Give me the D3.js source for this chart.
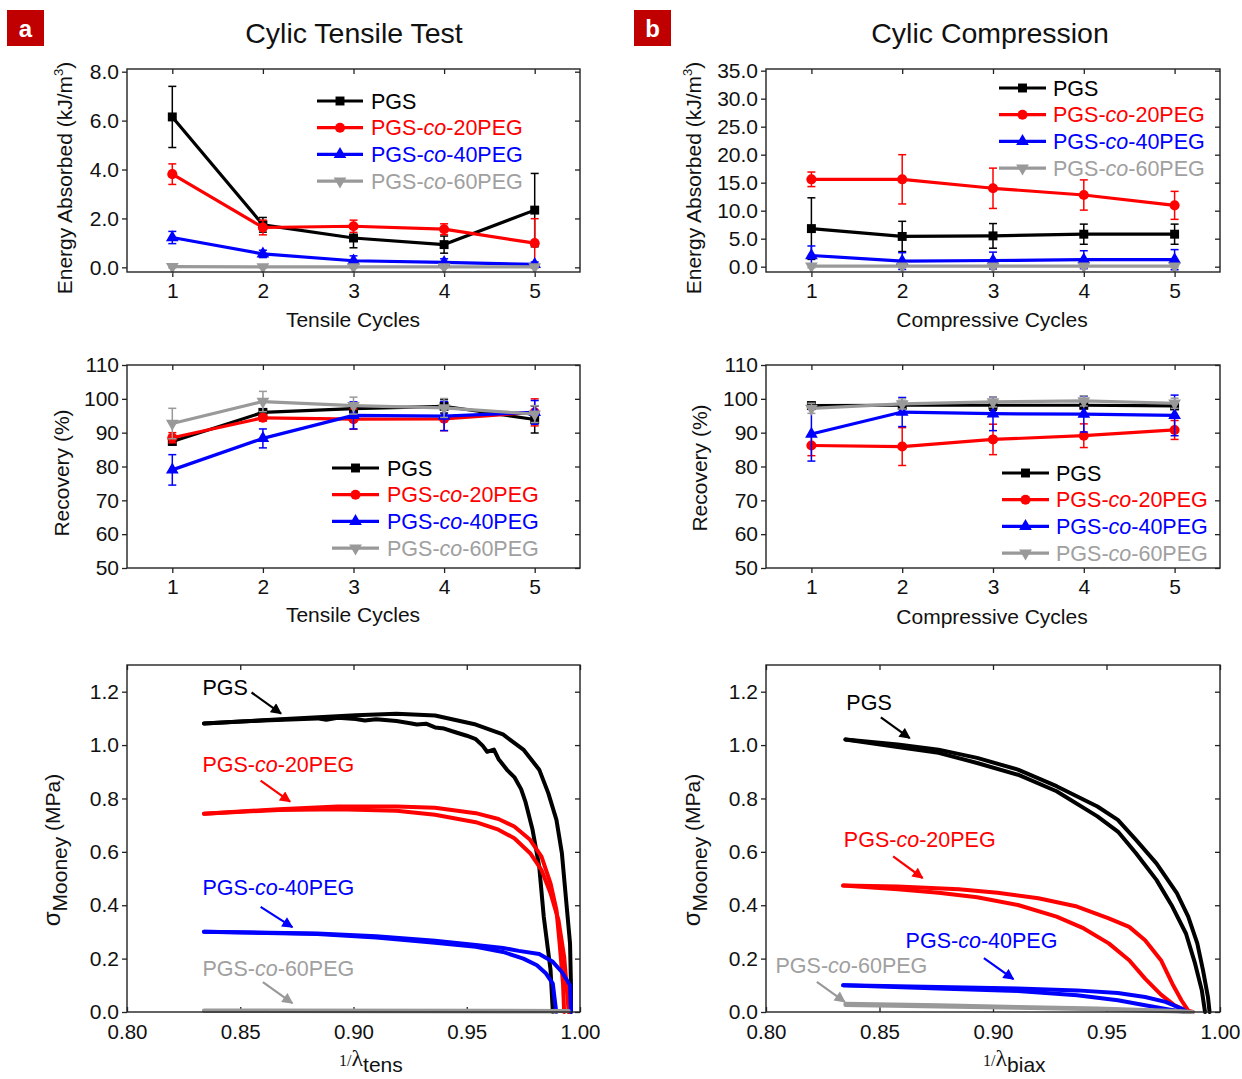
<!DOCTYPE html>
<html>
<head>
<meta charset="utf-8">
<script src="https://cdn.jsdelivr.net/npm/d3@7"></script>
<style>
  body { margin: 0; background: #fff; }
  svg text { font-family: "Liberation Sans", Arial, sans-serif; }
</style>
</head>
<body>
<svg id="fig" width="1242" height="1079"></svg>
<script>
// ---- data ----
const cycles = [1, 2, 3, 4, 5];
const names = ["PGS", "PGS-co-20PEG", "PGS-co-40PEG", "PGS-co-60PEG"];
const colors = ["#000000", "#ff0000", "#0000ff", "#999999"];
const textColors = ["#000000", "#ff0000", "#0000ff", "#a0a0a0"];

const tensEnergy = [[6.15, 1.74, 1.20, 0.93, 2.34], [3.81, 1.63, 1.68, 1.56, 0.99], [1.22, 0.55, 0.27, 0.20, 0.12], [0.03, 0.02, 0.02, 0.02, 0.02]];
const tensEnergyErr = [[1.25, 0.30, 0.40, 0.35, 1.50], [0.42, 0.30, 0.25, 0.22, 1.00], [0.25, 0.15, 0.20, 0.15, 0.10], [0.05, 0.05, 0.05, 0.05, 0.05]];
const compEnergy = [[6.8, 5.4, 5.5, 5.8, 5.8], [15.6, 15.6, 14.0, 12.8, 10.95], [2.0, 1.0, 1.1, 1.25, 1.25], [0.1, 0.1, 0.1, 0.1, 0.1]];
const compEnergyErr = [[5.5, 2.7, 2.2, 1.8, 1.8], [1.3, 4.4, 3.6, 2.7, 2.5], [1.7, 1.5, 1.5, 1.6, 1.8], [0.3, 0.3, 0.3, 0.3, 0.3]];
const tensRecovery = [[87.4, 96.0, 97.1, 97.8, 93.9], [88.5, 94.4, 94.0, 94.1, 96.0], [79.0, 88.3, 95.1, 94.9, 96.0], [92.7, 99.2, 98.0, 97.3, 95.5]];
const tensRecoveryErr = [[1, 1, 1.5, 2, 4], [1.5, 1, 3, 3.5, 4], [4.5, 2.8, 4, 4.3, 3.5], [4.5, 3, 2.5, 2.8, 2.5]];
const compRecovery = [[98.0, 98.1, 98.1, 98.1, 97.9], [86.2, 85.9, 88.0, 89.1, 90.8], [89.6, 96.1, 95.6, 95.5, 95.1], [97.2, 98.5, 99.1, 99.4, 98.7]];
const compRecoveryErr = [[1, 1, 1.5, 1, 1], [3, 5.6, 4.5, 3.5, 2.8], [8, 4.3, 5, 5.3, 6], [1.5, 1.5, 1.5, 1.5, 1.5]];

// Mooney curves, two branches each: [1/lambda, sigma]
const tensPGS1 = [[0.834, 1.081], [0.85, 1.088], [0.87, 1.098], [0.901, 1.112], [0.919, 1.117], [0.936, 1.111], [0.954, 1.077], [0.966, 1.040], [0.975, 0.983], [0.982, 0.908], [0.986, 0.82], [0.9896, 0.72], [0.992, 0.595], [0.994, 0.407], [0.9956, 0.257], [0.996, 0.106], [0.996, 0]];
const tensPGS2 = [[0.834, 1.081], [0.86, 1.092], [0.884, 1.100], [0.888, 1.095], [0.893, 1.102], [0.901, 1.098], [0.905, 1.092], [0.91, 1.097], [0.919, 1.09], [0.925, 1.082], [0.928, 1.077], [0.932, 1.08], [0.936, 1.066], [0.94, 1.062], [0.945, 1.048], [0.95, 1.035], [0.954, 1.022], [0.957, 0.998], [0.959, 0.975], [0.962, 0.983], [0.964, 0.948], [0.968, 0.905], [0.971, 0.88], [0.974, 0.835], [0.976, 0.785], [0.979, 0.685], [0.982, 0.545], [0.984, 0.357], [0.987, 0.157], [0.988, 0]];
const tensP20a = [[0.834, 0.743], [0.867, 0.760], [0.893, 0.770], [0.919, 0.770], [0.936, 0.765], [0.954, 0.745], [0.964, 0.723], [0.971, 0.695], [0.978, 0.645], [0.983, 0.582], [0.987, 0.482], [0.9896, 0.382], [0.991, 0.257], [0.9925, 0.106], [0.993, 0]];
const tensP20b = [[0.834, 0.743], [0.867, 0.757], [0.893, 0.760], [0.919, 0.754], [0.936, 0.739], [0.954, 0.711], [0.964, 0.683], [0.971, 0.651], [0.978, 0.595], [0.983, 0.532], [0.987, 0.445], [0.9905, 0.344], [0.993, 0.207], [0.994, 0.106], [0.995, 0]];
const tensP40a = [[0.834, 0.301], [0.884, 0.294], [0.910, 0.284], [0.936, 0.267], [0.954, 0.251], [0.966, 0.240], [0.973, 0.229], [0.982, 0.217], [0.988, 0.188], [0.992, 0.150], [0.9956, 0.10], [0.996, 0]];
const tensP40b = [[0.834, 0.301], [0.884, 0.292], [0.910, 0.279], [0.936, 0.259], [0.954, 0.244], [0.966, 0.225], [0.975, 0.200], [0.981, 0.175], [0.985, 0.144], [0.988, 0.106], [0.9887, 0.056], [0.9895, 0]];
const tensP60a = [[0.834, 0.006], [0.995, 0.004]];
const tensP60b = [[0.834, 0.004], [0.990, 0.002]];

const biaxPGS1 = [[0.835, 1.021], [0.858, 1.002], [0.876, 0.983], [0.893, 0.952], [0.911, 0.908], [0.928, 0.846], [0.946, 0.770], [0.955, 0.720], [0.963, 0.645], [0.972, 0.557], [0.981, 0.445], [0.986, 0.357], [0.990, 0.257], [0.9925, 0.157], [0.9947, 0.056], [0.9954, 0]];
const biaxPGS2 = [[0.835, 1.021], [0.858, 0.993], [0.876, 0.971], [0.893, 0.933], [0.911, 0.889], [0.928, 0.827], [0.946, 0.733], [0.955, 0.676], [0.963, 0.595], [0.972, 0.495], [0.979, 0.395], [0.985, 0.294], [0.989, 0.182], [0.992, 0.081], [0.9934, 0]];
const biaxP20a = [[0.834, 0.4735], [0.858, 0.470], [0.885, 0.460], [0.902, 0.447], [0.920, 0.426], [0.937, 0.395], [0.951, 0.351], [0.960, 0.319], [0.967, 0.269], [0.974, 0.194], [0.979, 0.106], [0.983, 0.044], [0.986, 0.005], [0.988, 0]];
const biaxP20b = [[0.834, 0.4735], [0.858, 0.460], [0.876, 0.447], [0.893, 0.430], [0.911, 0.401], [0.928, 0.357], [0.940, 0.313], [0.951, 0.257], [0.960, 0.194], [0.967, 0.125], [0.974, 0.065], [0.980, 0.025], [0.985, 0.005], [0.987, 0]];
const biaxP40a = [[0.834, 0.100], [0.876, 0.094], [0.911, 0.088], [0.937, 0.081], [0.955, 0.071], [0.967, 0.056], [0.976, 0.038], [0.983, 0.013], [0.9854, 0]];
const biaxP40b = [[0.834, 0.100], [0.876, 0.088], [0.911, 0.079], [0.937, 0.063], [0.955, 0.044], [0.967, 0.025], [0.978, 0.009], [0.985, 0]];
const biaxP60a = [[0.835, 0.031], [0.876, 0.025], [0.911, 0.019], [0.946, 0.013], [0.981, 0.004], [0.988, 0]];
const biaxP60b = [[0.835, 0.026], [0.876, 0.021], [0.911, 0.016], [0.946, 0.010], [0.981, 0.002], [0.986, 0]];

const tensCurves = [[tensPGS1, tensPGS2], [tensP20a, tensP20b], [tensP40a, tensP40b], [tensP60a, tensP60b]];
const biaxCurves = [[biaxPGS1, biaxPGS2], [biaxP20a, biaxP20b], [biaxP40a, biaxP40b], [biaxP60a, biaxP60b]];

const tensEnergyTicks = [0, 2, 4, 6, 8];
const compEnergyTicks = [0, 5, 10, 15, 20, 25, 30, 35];
const recoveryTicks = [50, 60, 70, 80, 90, 100, 110];
const stretchTicks = [0.80, 0.85, 0.90, 0.95, 1.00];
const mooneyTicks = [0, 0.2, 0.4, 0.6, 0.8, 1.0, 1.2];

// annotation anchors (data units) for the Mooney panels
const tensLabelAt = [[0.8333, 1.216], [0.8333, 0.927], [0.8333, 0.469], [0.8333, 0.164]];
const tensArrowAt = [[0.855, 1.197, 0.868, 1.118], [0.859, 0.867, 0.872, 0.788], [0.859, 0.394, 0.873, 0.318], [0.860, 0.112, 0.873, 0.033]];
const biaxLabelAt = [[0.8354, 1.162], [0.8343, 0.646], [0.8615, 0.270], [0.8042, 0.176]];
const biaxArrowAt = [[0.8506, 1.104, 0.8633, 1.026], [0.856, 0.583, 0.869, 0.502], [0.896, 0.202, 0.909, 0.123], [0.8224, 0.113, 0.8347, 0.038]];

// ---- layout ----
const colX = [[127, 580], [766, 1220]];
const rowY = [[69, 272], [365, 568], [665, 1012]];
const svg = d3.select("#fig");
const FONT = '"Liberation Sans", Arial, sans-serif';

const defs = svg.append("defs");
colors.forEach((c, i) => {
  defs.append("marker").attr("id", "ah" + i)
    .attr("viewBox", "0 0 10 10").attr("refX", 9).attr("refY", 5)
    .attr("markerUnits", "userSpaceOnUse").attr("markerWidth", 12).attr("markerHeight", 11)
    .attr("orient", "auto")
    .append("path").attr("d", "M0,0L10,5L0,10z").attr("fill", c);
});

function makePanel(col, row, xDom, yDom, xTicks, yTicks, xFmt, yFmt, bottomIn) {
  const [l, r] = colX[col], [t, b] = rowY[row];
  const x = d3.scaleLinear().domain(xDom).range([l, r]);
  const y = d3.scaleLinear().domain(yDom).range([b, t]);
  const g = svg.append("g");
  const xAx = g.append("g").attr("transform", `translate(0,${b})`)
    .call(d3.axisBottom(x).tickValues(xTicks).tickFormat(xFmt).tickSize(bottomIn ? -5 : 5).tickPadding(bottomIn ? 12 : 6));
  g.append("g").attr("transform", `translate(0,${t})`)
    .call(d3.axisTop(x).tickValues(xTicks).tickFormat("").tickSize(-5));
  g.append("g").attr("transform", `translate(${l},0)`)
    .call(d3.axisLeft(y).tickValues(yTicks).tickFormat(yFmt).tickSize(5).tickPadding(3));
  g.append("g").attr("transform", `translate(${r},0)`)
    .call(d3.axisRight(y).tickValues(yTicks).tickFormat("").tickSize(-5));
  g.selectAll(".domain").remove();
  g.selectAll(".tick line").attr("stroke", "#222").attr("stroke-width", 1.3);
  g.selectAll(".tick text").attr("font-size", 21).attr("font-family", FONT).attr("fill", "#111");
  if (bottomIn) xAx.selectAll(".tick text").attr("font-size", 20.5);
  const plot = g.append("g");
  g.append("rect").attr("x", l).attr("y", t).attr("width", r - l).attr("height", b - t)
    .attr("fill", "none").attr("stroke", "#222").attr("stroke-width", 1.4);
  return { g: plot, x, y };
}

function markerPath(i) {
  const types = [d3.symbolSquare, d3.symbolCircle, d3.symbolTriangle, d3.symbolTriangle];
  const sizes = [80, 80, 70, 70];
  return d3.symbol().type(types[i]).size(sizes[i])();
}

function drawSeries(p, vals, errs) {
  const line = d3.line().x(d => p.x(d[0])).y(d => p.y(d[1]));
  vals.forEach((v, i) => {
    const c = colors[i];
    const s = p.g.append("g");
    cycles.forEach((cx, j) => {
      const px = p.x(cx), lo = p.y(v[j] - errs[i][j]), hi = p.y(v[j] + errs[i][j]);
      s.append("line").attr("x1", px).attr("x2", px).attr("y1", lo).attr("y2", hi)
        .attr("stroke", c).attr("stroke-width", 1.5);
      [lo, hi].forEach(yy => s.append("line").attr("x1", px - 4).attr("x2", px + 4)
        .attr("y1", yy).attr("y2", yy).attr("stroke", c).attr("stroke-width", 1.5));
    });
    s.append("path").datum(cycles.map((cx, j) => [cx, v[j]])).attr("d", line)
      .attr("fill", "none").attr("stroke", c).attr("stroke-width", 3.2).attr("stroke-linejoin", "round");
    s.selectAll(".m").data(cycles).enter().append("path")
      .attr("d", markerPath(i))
      .attr("transform", (cx, j) => `translate(${p.x(cx)},${p.y(v[j])}) rotate(${i === 3 ? 180 : 0})`)
      .attr("fill", c);
  });
}

function seriesText(sel, n) {
  if (n.indexOf("-co-") < 0) { sel.text(n); return; }
  const parts = n.split("-co-");
  sel.append("tspan").text(parts[0] + "-");
  sel.append("tspan").attr("font-style", "italic").text("co");
  sel.append("tspan").text("-" + parts[1]);
}

function drawLegend(x0, x1, xt, y0, step) {
  const g = svg.append("g");
  names.forEach((n, i) => {
    const yy = y0 + i * step;
    g.append("line").attr("x1", x0).attr("x2", x1).attr("y1", yy).attr("y2", yy)
      .attr("stroke", colors[i]).attr("stroke-width", 3.2);
    g.append("path").attr("d", markerPath(i))
      .attr("transform", `translate(${(x0 + x1) / 2},${yy}) rotate(${i === 3 ? 180 : 0})`)
      .attr("fill", colors[i]);
    const t = g.append("text").attr("x", xt).attr("y", yy).attr("dy", "0.36em")
      .attr("font-size", 21.5).attr("fill", textColors[i]);
    seriesText(t, n);
  });
}

function drawCurves(p, curves, labelAt, arrowAt) {
  const line = d3.line().x(d => p.x(d[0])).y(d => p.y(d[1]));
  curves.forEach((pair, i) => {
    pair.forEach(c => p.g.append("path").datum(c).attr("d", line)
      .attr("fill", "none").attr("stroke", colors[i]).attr("stroke-width", 4)
      .attr("stroke-linejoin", "round").attr("stroke-linecap", "round"));
  });
  names.forEach((n, i) => {
    const t = p.g.append("text").attr("x", p.x(labelAt[i][0])).attr("y", p.y(labelAt[i][1]))
      .attr("dy", "0.36em").attr("font-size", 21.5).attr("fill", textColors[i]);
    seriesText(t, n);
    const a = arrowAt[i];
    p.g.append("line").attr("x1", p.x(a[0])).attr("y1", p.y(a[1])).attr("x2", p.x(a[2])).attr("y2", p.y(a[3]))
      .attr("stroke", colors[i]).attr("stroke-width", 2.2).attr("marker-end", `url(#ah${i})`);
  });
}

function yTitle(x, y, build) {
  const t = svg.append("text").attr("transform", `translate(${x},${y}) rotate(-90)`)
    .attr("text-anchor", "middle").attr("font-size", 21).attr("fill", "#111");
  build(t);
}
function xTitle(x, y, s) {
  svg.append("text").attr("x", x).attr("y", y).attr("text-anchor", "middle")
    .attr("font-size", 21).attr("fill", "#111").text(s);
}

const f1 = d3.format(".1f"), f0 = d3.format("d"), f2 = d3.format(".2f");

// top row: energy absorbed
const pA1 = makePanel(0, 0, [0.5, 5.5], [-0.19, 8.11], cycles, tensEnergyTicks, f0, f1, false);
drawSeries(pA1, tensEnergy, tensEnergyErr);
const pB1 = makePanel(1, 0, [0.5, 5.5], [-0.95, 35.3], cycles, compEnergyTicks, f0, f1, false);
drawSeries(pB1, compEnergy, compEnergyErr);

// middle row: recovery
const pA2 = makePanel(0, 1, [0.5, 5.5], [50, 110], cycles, recoveryTicks, f0, f0, false);
drawSeries(pA2, tensRecovery, tensRecoveryErr);
const pB2 = makePanel(1, 1, [0.5, 5.5], [50, 110], cycles, recoveryTicks, f0, f0, false);
drawSeries(pB2, compRecovery, compRecoveryErr);

// bottom row: Mooney plots
const pA3 = makePanel(0, 2, [0.8, 1.0], [0, 1.3], stretchTicks, mooneyTicks, f2, f1, true);
drawCurves(pA3, tensCurves, tensLabelAt, tensArrowAt);
const pB3 = makePanel(1, 2, [0.8, 1.0], [0, 1.3], stretchTicks, mooneyTicks, f2, f1, true);
drawCurves(pB3, biaxCurves, biaxLabelAt, biaxArrowAt);

// legends
drawLegend(317, 363, 371, 101, 26.7);
drawLegend(999, 1046, 1053, 88, 26.7);
drawLegend(332, 379, 387, 468, 26.7);
drawLegend(1002, 1049, 1056, 473, 26.7);

// axis titles
const energyTitle = t => {
  t.append("tspan").text("Energy Absorbed (kJ/m");
  t.append("tspan").attr("font-size", 13).attr("dy", -9).text("3");
  t.append("tspan").attr("dy", 9).text(")");
};
yTitle(72, 178, energyTitle);
yTitle(701, 178, energyTitle);
yTitle(69, 473, t => t.text("Recovery (%)"));
yTitle(707, 468, t => t.text("Recovery (%)"));
const mooneyTitle = t => {
  t.append("tspan").attr("font-size", 24).text("σ");
  t.append("tspan").attr("dy", 7).text("Mooney");
  t.append("tspan").attr("dy", -7).text(" (MPa)");
};
yTitle(60, 850, mooneyTitle);
yTitle(700, 850, mooneyTitle);

xTitle(353, 327, "Tensile Cycles");
xTitle(353, 622, "Tensile Cycles");
xTitle(992, 327, "Compressive Cycles");
xTitle(992, 624, "Compressive Cycles");

function stretchTitle(x, sub) {
  const t = svg.append("text").attr("x", x).attr("y", 1066).attr("fill", "#111");
  t.append("tspan").attr("font-family", '"Liberation Serif", serif').attr("font-size", 16).text("1/");
  t.append("tspan").attr("font-family", '"Liberation Serif", serif').attr("font-size", 24).text("λ");
  t.append("tspan").attr("font-size", 21).attr("dy", 6).text(sub);
}
stretchTitle(339, "tens");
stretchTitle(983, "biax");

// panel titles and letters
[["a", 7, 354, "Cylic Tensile Test"], ["b", 634, 990, "Cylic Compression"]].forEach(([k, bx, tx, title]) => {
  svg.append("rect").attr("x", bx).attr("y", 10).attr("width", 37).attr("height", 36).attr("fill", "#c00000");
  svg.append("text").attr("x", bx + 18.5).attr("y", 28).attr("dy", "0.36em").attr("text-anchor", "middle")
    .attr("font-family", "Lato, 'Open Sans', sans-serif").attr("font-weight", "bold")
    .attr("font-size", 24).attr("fill", "#fff").text(k);
  svg.append("text").attr("x", tx).attr("y", 33).attr("dy", "0.36em").attr("text-anchor", "middle")
    .attr("font-family", "Lato, 'Open Sans', sans-serif").attr("font-size", 28.5).attr("fill", "#111").text(title);
});
</script>
</body>
</html>
